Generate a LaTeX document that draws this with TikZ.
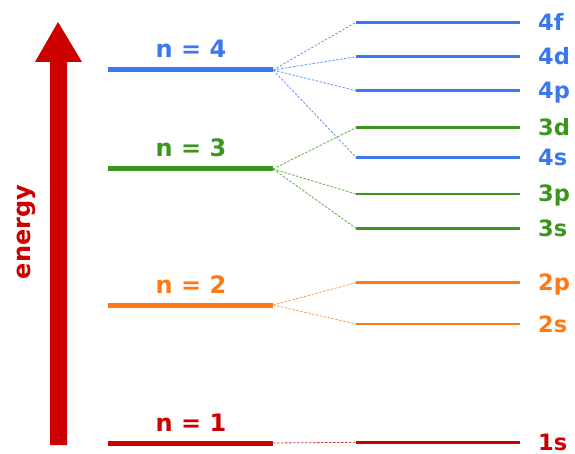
\documentclass[tikz,border=0pt]{standalone}
\usepackage{fontspec}
\setmainfont{DejaVu Sans}
\definecolor{cblue}{RGB}{59,120,240}
\definecolor{cgreen}{RGB}{60,150,30}
\definecolor{corange}{RGB}{255,120,20}
\definecolor{cred}{RGB}{205,0,0}
\begin{document}
\begin{tikzpicture}[x=1pt,y=-1pt,
  lev/.style={line width=5pt},
  sub/.style={line width=2.8pt},
  conn/.style={line width=0.8pt, dash pattern=on 2.5pt off 1.5pt},
  nlab/.style={font=\fontsize{24}{28}\selectfont\bfseries, inner sep=0pt, anchor=base},
  slab/.style={font=\fontsize{22.5}{27}\selectfont\bfseries, inner sep=0pt, anchor=base west}]
\useasboundingbox (0,0) rectangle (575,454);
% energy arrow
\fill[cred] (50,445) -- (50,62) -- (35,62) -- (58,22) -- (82,62) -- (67,62) -- (67,445) -- cycle;
\node[font=\fontsize{24}{28}\selectfont\bfseries, text=cred, rotate=90, anchor=base, inner sep=0pt] (en) at (30,232) {energy};
% main levels
\foreach \n/\y/\c in {4/70/cblue, 3/169/cgreen, 2/305/corange, 1/443/cred}{
  \coordinate (L\n a) at (108,\y);
  \coordinate (L\n b) at (273,\y);
  \draw[lev,\c] (L\n a) -- (L\n b);
  \node[nlab,text=\c] (N\n) at (191,\y-12) {n = \n};
}
% sublevels
\foreach \s/\y/\c in {4f/22.3/cblue, 4d/56.7/cblue, 4p/90.7/cblue, 4s/157.3/cblue,
                      3d/127.7/cgreen, 3p/194/cgreen, 3s/228.3/cgreen,
                      2p/282.7/corange, 2s/324/corange, 1s/442.3/cred}{
  \coordinate (S\s a) at (356,\y);
  \coordinate (S\s b) at (520,\y);
  \draw[sub,\c] (S\s a) -- (S\s b);
  \node[slab,text=\c] (T\s) at (538,\y+8) {\s};
}
% connectors
\foreach \n/\s/\c in {4/4f/cblue, 4/4d/cblue, 4/4p/cblue, 4/4s/cblue,
                      3/3d/cgreen, 3/3p/cgreen, 3/3s/cgreen,
                      2/2p/corange, 2/2s/corange, 1/1s/cred}{
  \draw[conn,\c!80] (L\n b) -- (S\s a);
}
\end{tikzpicture}
\end{document}
